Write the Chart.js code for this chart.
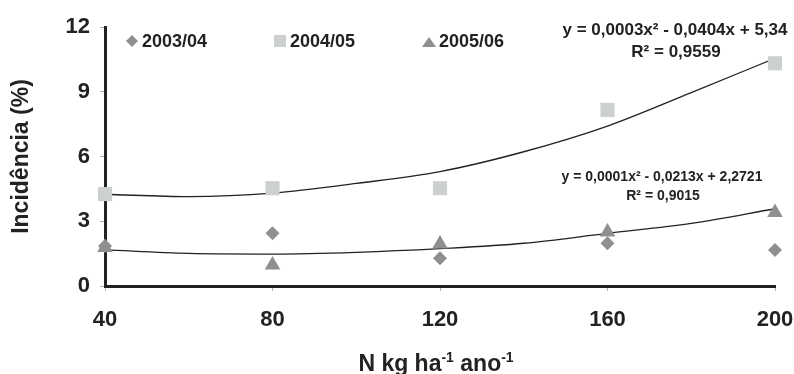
<!DOCTYPE html>
<html>
<head>
<meta charset="utf-8">
<script src="https://cdn.jsdelivr.net/npm/chart.js@4/dist/chart.umd.min.js"></script>
<style>
  html, body { margin: 0; padding: 0; background: #fff; }
  #wrap { width: 794px; height: 374px; }
</style>
</head>
<body>
<div id="wrap"><canvas id="chart" width="794" height="374"></canvas></div>
<script>
// Data
const doses = [40, 80, 120, 160, 200];
const s2003 = [1.85, 2.44, 1.28, 1.98, 1.67];
const s2004 = [4.26, 4.53, 4.53, 8.16, 10.32];
const s2005 = [1.78, 0.97, 1.95, 2.5, 3.4];

// trend curves as traced on the picture
const curveX = [40, 60, 80, 100, 120, 140, 160, 180, 200];
const curveUpper = [4.25, 4.14, 4.3, 4.75, 5.3, 6.22, 7.41, 8.96, 10.55];
const curveLower = [1.67, 1.51, 1.48, 1.56, 1.73, 1.98, 2.44, 2.9, 3.58];

const seriesNames = ["2003/04", "2004/05", "2005/06"];
const eqUpper = ["y = 0,0003x² - 0,0404x + 5,34", "R² = 0,9559"];
const eqLower = ["y = 0,0001x² - 0,0213x + 2,2721", "R² = 0,9015"];
const yTicks = [0, 3, 6, 9, 12];

const dark = "#222";
const midGray = "#8e9090";
const lightGray = "#cdd0d0";
const FONT = "'Liberation Sans', Arial, sans-serif";

const pts = (xs, ys) => xs.map((x, i) => ({ x: x, y: ys[i] }));

// legend, equations and x title drawn on top
const extras = {
  id: "extras",
  afterDraw(chart) {
    const ctx = chart.ctx;
    ctx.save();
    ctx.fillStyle = dark;
    ctx.textBaseline = "alphabetic";

    // legend
    ctx.font = "bold 18px " + FONT;
    ctx.fillStyle = midGray;
    ctx.beginPath();
    ctx.moveTo(132, 35); ctx.lineTo(138, 41); ctx.lineTo(132, 47); ctx.lineTo(126, 41);
    ctx.closePath(); ctx.fill();
    ctx.fillStyle = lightGray;
    ctx.fillRect(274, 35, 12, 12);
    ctx.fillStyle = midGray;
    ctx.beginPath();
    ctx.moveTo(429, 37); ctx.lineTo(436, 47); ctx.lineTo(422, 47);
    ctx.closePath(); ctx.fill();
    ctx.fillStyle = dark;
    ctx.textAlign = "left";
    ctx.fillText(seriesNames[0], 142, 47);
    ctx.fillText(seriesNames[1], 290, 47);
    ctx.fillText(seriesNames[2], 439, 47);

    // equations
    ctx.textAlign = "center";
    ctx.font = "bold 17px " + FONT;
    ctx.fillText(eqUpper[0], 675, 35);
    ctx.fillText(eqUpper[1], 676, 57);
    ctx.font = "bold 14px " + FONT;
    ctx.fillText(eqLower[0], 662, 181);
    ctx.fillText(eqLower[1], 663, 200);

    // x axis title with superscripts
    const parts = [["N kg ha", false], ["-1", true], [" ano", false], ["-1", true]];
    const big = "bold 23px " + FONT, small = "bold 14px " + FONT;
    let w = 0;
    parts.forEach(p => { ctx.font = p[1] ? small : big; w += ctx.measureText(p[0]).width; });
    let x = 436 - w / 2;
    ctx.textAlign = "left";
    parts.forEach(p => {
      ctx.font = p[1] ? small : big;
      ctx.fillText(p[0], x, p[1] ? 362 : 371);
      x += ctx.measureText(p[0]).width;
    });
    ctx.restore();
  }
};

new Chart(document.getElementById("chart"), {
  type: "scatter",
  data: {
    datasets: [
      {
        label: seriesNames[0], data: pts(doses, s2003),
        pointStyle: "rectRot", pointRadius: 7, pointHoverRadius: 7,
        backgroundColor: midGray, borderColor: midGray, borderWidth: 0, clip: false
      },
      {
        label: seriesNames[1], data: pts(doses, s2004),
        pointStyle: "rect", pointRadius: 10, pointHoverRadius: 10,
        backgroundColor: lightGray, borderColor: lightGray, borderWidth: 0, clip: false
      },
      {
        label: seriesNames[2], data: pts(doses, s2005),
        pointStyle: "triangle", pointRadius: 9, pointHoverRadius: 9,
        backgroundColor: midGray, borderColor: midGray, borderWidth: 0, clip: false
      },
      {
        type: "line", label: "trend 2004/05", data: pts(curveX, curveUpper),
        showLine: true, pointRadius: 0, borderColor: dark, borderWidth: 1.3,
        cubicInterpolationMode: "monotone", fill: false
      },
      {
        type: "line", label: "trend 2003-06", data: pts(curveX, curveLower),
        showLine: true, pointRadius: 0, borderColor: dark, borderWidth: 1.3,
        cubicInterpolationMode: "monotone", fill: false
      }
    ]
  },
  options: {
    responsive: false,
    animation: false,
    layout: { padding: { top: 27, right: 0, left: 0, bottom: 0 } },
    plugins: { legend: { display: false }, tooltip: { enabled: false } },
    scales: {
      x: {
        type: "linear", min: 40, max: 200, z: 1,
        afterFit: s => { s.height = 88; s.paddingRight = 19; s.paddingLeft = 0; },
        border: { color: dark, width: 3 },
        grid: { drawOnChartArea: false, drawTicks: true, tickLength: 5, color: "#b0b0b0" },
        ticks: { stepSize: 40, padding: 16, color: dark, font: { family: FONT, size: 22, weight: "bold" } }
      },
      y: {
        min: 0, max: 12, z: 1,
        afterFit: s => { s.width = 105; },
        afterBuildTicks: s => { s.ticks = yTicks.map(v => ({ value: v })); },
        border: { color: dark, width: 3 },
        grid: { drawOnChartArea: false, drawTicks: true, tickLength: 5, color: "#b0b0b0" },
        ticks: { padding: 10, color: dark, font: { family: FONT, size: 22, weight: "bold" } },
        title: {
          display: true, text: "Incidência (%)", color: dark,
          font: { family: FONT, size: 23, weight: "bold" }, padding: { top: 8, bottom: 0 }
        }
      }
    }
  },
  plugins: [extras]
});
</script>
</body>
</html>
